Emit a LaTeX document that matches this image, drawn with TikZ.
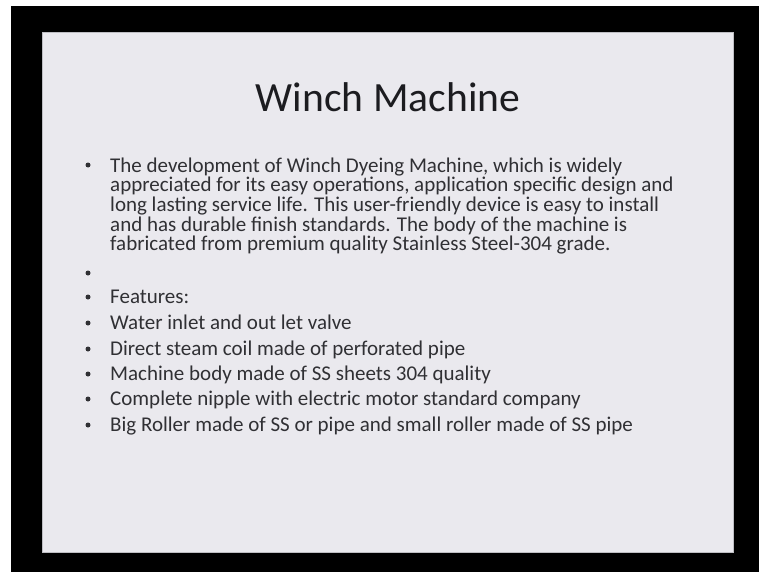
\documentclass[tikz,border=0pt]{standalone}
\usepackage{fontspec}
\setmainfont{Carlito}
\definecolor{slidebg}{RGB}{234,233,238}
\definecolor{bodytext}{RGB}{48,48,52}
\definecolor{titletext}{RGB}{28,28,32}
\definecolor{slideedge}{RGB}{190,190,195}
\begin{document}
\begin{tikzpicture}[x=1pt,y=-1pt,
  bodyline/.style={anchor=base west, inner sep=0pt, text=bodytext, font=\fontsize{21}{22}\selectfont},
  bulletdot/.style={circle, fill=bodytext, inner sep=0pt, minimum size=5pt},
  titlestyle/.style={anchor=base, inner sep=0pt, text=titletext, font=\fontsize{41.6}{50}\selectfont}]
\useasboundingbox (0,0) rectangle (759,572);
\fill[white] (0,0) rectangle (759,572);
\fill[black] (11,6) rectangle (759,572);
\path[fill=slidebg, draw=slideedge, line width=1pt] (42,33) rectangle (733,552);

\node[titlestyle] (title) at (388,112) {Winch Machine};

\node[bulletdot] (b1) at (88,165) {};
\node[bodyline] (p1) at (110,172) {The development of Winch Dyeing Machine, which is widely};
\node[bodyline] (p2) at (110,191.7) {appreciated for its easy operations, application specific design and};
\node[bodyline] (p3) at (110,211.4) {long lasting service life. This user-friendly device is easy to install};
\node[bodyline] (p4) at (110,231.1) {and has durable finish standards. The body of the machine is};
\node[bodyline] (p5) at (110,250.8) {fabricated from premium quality Stainless Steel-304 grade.};

\node[bulletdot] (b2) at (88,273) {};

\node[bulletdot] (b3) at (88,297) {};
\node[bodyline] (f0) at (110,303) {Features:};
\node[bulletdot] (b4) at (88,323) {};
\node[bodyline] (f1) at (110,329) {Water inlet and out let valve};
\node[bulletdot] (b5) at (88,349) {};
\node[bodyline] (f2) at (110,355) {Direct steam coil made of perforated pipe};
\node[bulletdot] (b6) at (88,374) {};
\node[bodyline] (f3) at (110,380) {Machine body made of SS sheets 304 quality};
\node[bulletdot] (b7) at (88,399) {};
\node[bodyline] (f4) at (110,405) {Complete nipple with electric motor standard company};
\node[bulletdot] (b8) at (88,425) {};
\node[bodyline] (f5) at (110,431) {Big Roller made of SS or pipe and small roller made of SS pipe};
\end{tikzpicture}
\end{document}
